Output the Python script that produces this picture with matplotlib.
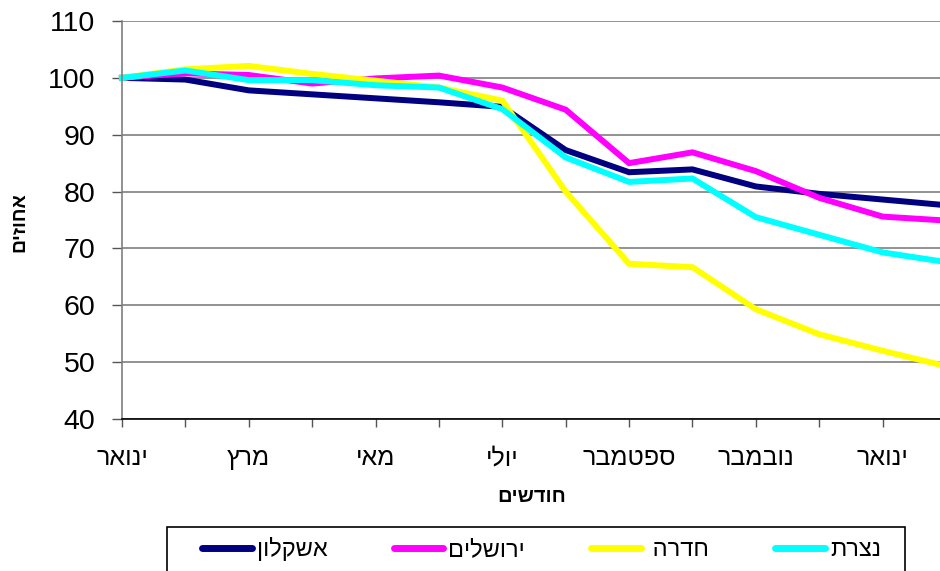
import matplotlib
matplotlib.use("Agg")
import matplotlib.pyplot as plt
from matplotlib.patches import Rectangle

plt.rcParams['font.family'] = ['Liberation Sans', 'DejaVu Sans']

def vis(s):
    # matplotlib has no bidi support: render Hebrew in visual order
    return s[::-1]

months = ["ינואר", "פברואר", "מרץ", "אפריל", "מאי", "יוני", "יולי",
          "אוגוסט", "ספטמבר", "אוקטובר", "נובמבר", "דצמבר", "ינואר", "פברואר"]
series_names = ["אשקלון", "ירושלים", "חדרה ", "נצרת"]
ashkelon = [100, 99.7, 97.8, 97.1, 96.4, 95.7, 94.9, 87.3, 83.4, 83.9, 80.9, 79.6, 78.6, 77.6]
jerusalem = [100, 100.8, 100.5, 99.0, 99.9, 100.4, 98.3, 94.4, 85.0, 86.9, 83.6, 78.9, 75.6, 74.9]
hadera = [100, 101.5, 102.1, 100.7, 99.5, 98.3, 96.0, 80.0, 67.3, 66.7, 59.3, 54.9, 52.0, 49.3]
natzrat = [100, 101.3, 99.6, 99.6, 98.7, 98.3, 94.5, 86.0, 81.7, 82.3, 75.5, 72.4, 69.3, 67.6]
colors = ["#000080", "#FF00FF", "#FFFF00", "#00FFFF"]
y_ticks = [40, 50, 60, 70, 80, 90, 100, 110]

W, H = 940, 571
fig = plt.figure(figsize=(W / 100, H / 100), dpi=100)
left, right, top, bottom = 122, 946, 21, 419
ax = fig.add_axes([left / W, 1 - bottom / H, (right - left) / W, (bottom - top) / H])

x = list(range(len(months)))
for vals, c, name in zip([ashkelon, jerusalem, hadera, natzrat], colors, series_names):
    ax.plot(x, vals, color=c, lw=4.3, solid_joinstyle='miter', label=vis(name), clip_on=False)

ax.set_xlim(0, len(months) - 1)
ax.set_ylim(40, 110)
ax.set_yticks(y_ticks)
ax.set_yticklabels([str(v) for v in y_ticks], fontsize=20.5)
ax.set_xticks(x)
ax.set_xticklabels([vis(m) if i % 2 == 0 else "" for i, m in enumerate(months)], fontsize=18)
ax.grid(axis='y', color='#7f7f7f', lw=1.2)
ax.set_axisbelow(True)
for s in ['top', 'right']:
    ax.spines[s].set_visible(False)
ax.spines['left'].set_color('#7f7f7f')
ax.spines['left'].set_linewidth(1.2)
ax.spines['bottom'].set_color('black')
ax.spines['bottom'].set_linewidth(1.2)
ax.tick_params(axis='y', direction='out', length=7, width=1, color='#555555', pad=12)
ax.tick_params(axis='x', direction='out', length=5.5, width=1, color='#555555', pad=14)

fig.text(20 / W, 1 - 222 / H, vis("אחוזים"), rotation=90, fontsize=14, fontweight='bold',
         ha='center', va='center')
fig.text(532 / W, 1 - 497 / H, vis("חודשים"), fontsize=14.5, fontweight='bold',
         ha='center', va='center')

# legend frame (cropped at the bottom edge like the reference)
fig.patches.append(Rectangle((167 / W, -0.1), (905 - 167) / W, (1 - 527 / H) + 0.1,
                             transform=fig.transFigure, fill=False, edgecolor='black',
                             lw=1.2, zorder=5))
leg = fig.legend(loc='center left', bbox_to_anchor=(202 / W, 1 - 549 / H), ncol=4,
                 fontsize=17, frameon=False,
                 handlelength=2.1, handletextpad=0.22, columnspacing=2.8,
                 borderpad=0, borderaxespad=0)
for h in leg.get_lines():
    h.set_linewidth(5)
    h.set_solid_capstyle('round')

fig.savefig("out.png", dpi=100)
